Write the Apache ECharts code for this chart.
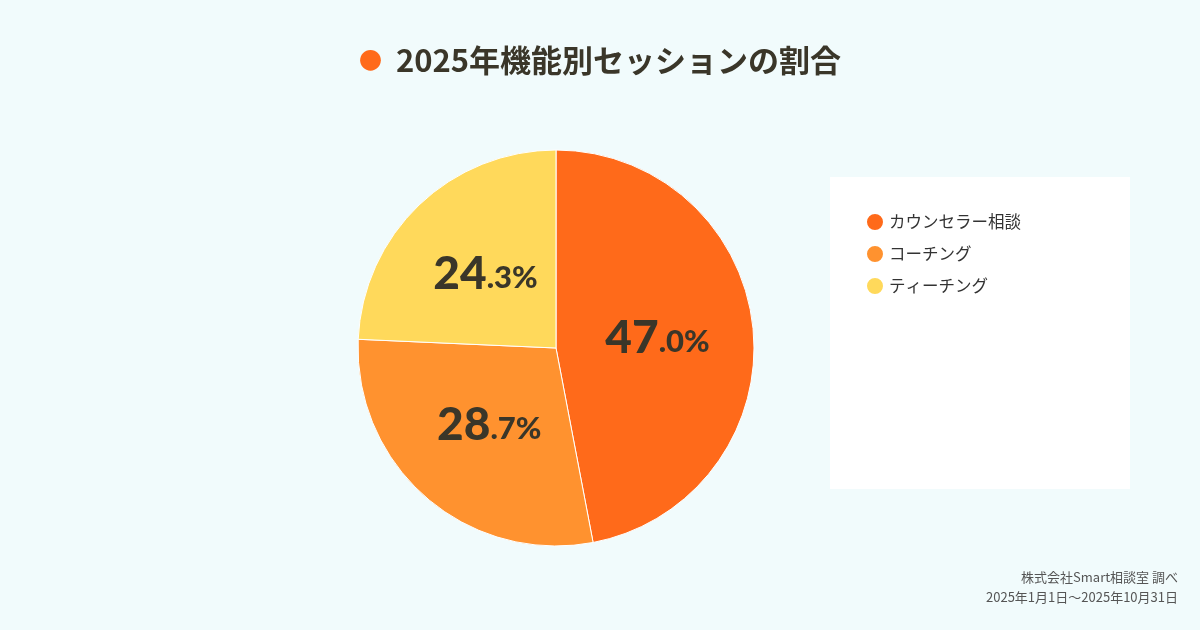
<!DOCTYPE html>
<html><head><meta charset="utf-8">
<script src="https://cdn.jsdelivr.net/npm/echarts@6/dist/echarts.min.js"></script>
<style>html,body{margin:0;padding:0;background:#f1fbfc;}#c{width:1200px;height:630px;}</style>
</head><body><div id="c"></div>
<script>
const categories = ['カウンセラー相談', 'コーチング', 'ティーチング'];
const values = [47.0, 28.7, 24.3];
const colors = ['#ff6a1a', '#ff922f', '#ffd95b'];
const footer = ['株式会社Smart相談室 調べ', '2025年1月1日〜2025年10月31日'];

const chart = echarts.init(document.getElementById('c'));
const jp = '"Noto Sans CJK JP", "Noto Sans", sans-serif';
chart.setOption({
  backgroundColor: '#f1fbfc',
  title: {
    text: '{dot|●}  2025年機能別セッションの割合',
    left: 'center', top: 40,
    textStyle: {
      fontFamily: jp, fontSize: 31, fontWeight: 'bold', color: '#3a3629',
      rich: { dot: { color: '#ff6a1a', fontSize: 23, fontFamily: jp } }
    }
  },
  graphic: [
    { type: 'rect', shape: { x: 830, y: 177, width: 300, height: 312 }, style: { fill: '#ffffff' }, z: 0 },
    { type: 'text', right: 22, top: 571, style: { text: footer[0], fill: '#555', font: '13px "Noto Sans CJK JP", sans-serif' } },
    { type: 'text', right: 22, top: 591, style: { text: footer[1], fill: '#555', font: '13px "Noto Sans CJK JP", sans-serif' } }
  ],
  legend: {
    orient: 'vertical', left: 860, top: 207,
    icon: 'circle', itemWidth: 18, itemHeight: 18, itemGap: 12,
    textStyle: { fontFamily: jp, fontSize: 16.5, color: '#333' },
    data: categories
  },
  series: [{
    type: 'pie',
    center: [556, 348], radius: 198,
    startAngle: 90, clockwise: true,
    color: colors,
    itemStyle: { borderColor: '#fff', borderWidth: 1 },
    label: {
      position: 'inside',
      formatter: p => {
        const s = p.value.toFixed(1).split('.');
        return '{a|' + s[0] + '}{b|.' + s[1] + '%}';
      },
      rich: {
        a: { fontFamily: 'Lato', fontWeight: 900, fontSize: 46, color: '#3a3629' },
        b: { fontFamily: 'Lato', fontWeight: 900, fontSize: 31, color: '#3a3629', padding: [8, 0, 0, 0] }
      }
    },
    labelLine: { show: false },
    emphasis: { disabled: true },
    animation: false,
    data: categories.map((n, i) => ({ name: n, value: values[i] }))
  }]
});
</script></body></html>
